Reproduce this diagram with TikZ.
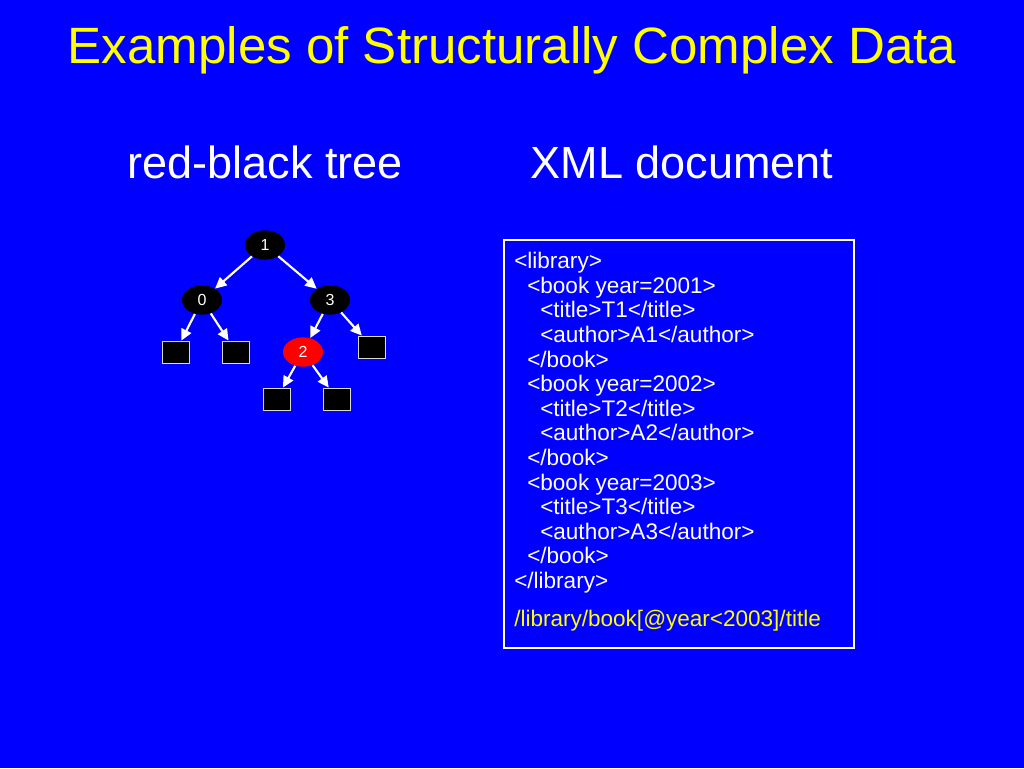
\documentclass[tikz,border=0pt]{standalone}
\usepackage{fontspec}
\setmainfont{Liberation Sans}
\usetikzlibrary{arrows.meta,shapes.geometric}
\definecolor{bgblue}{RGB}{0,0,255}
\definecolor{ttlyellow}{RGB}{255,255,0}
\definecolor{rbred}{RGB}{255,0,0}
\begin{document}
\begin{tikzpicture}[x=0.75pt,y=-0.75pt,
  title/.style={anchor=base,inner sep=0,text=ttlyellow,font=\fontsize{38.3}{44}\selectfont},
  heading/.style={anchor=base,inner sep=0,text=white,font=\fontsize{33.8}{40}\selectfont},
  rbnode/.style={ellipse,inner sep=0,minimum width=30pt,minimum height=22pt,fill=black,text=white,font=\fontsize{12}{14}\selectfont},
  rednode/.style={rbnode,fill=rbred},
  leaf/.style={rectangle,inner sep=0,minimum width=20.25pt,minimum height=16.5pt,fill=black,draw=black!15,line width=0.6pt},
  edge/.style={draw=white,line width=1.6pt,-{Triangle[length=8.5pt,width=8pt]}},
  xmltext/.style={anchor=north west,inner sep=0,text=white,align=left,font=\fontsize{16.9}{18.45}\selectfont},
  xpath/.style={anchor=base west,inner sep=0,text=ttlyellow,font=\fontsize{16.9}{18.45}\selectfont}
]
\fill[bgblue] (0,0) rectangle (1024,768);
\useasboundingbox (0,0) rectangle (1024,768);

\node[title] (title) at (512,63) {Examples of Structurally Complex Data};
\node[heading] (rbt) at (265,178) {red-black tree};
\node[heading] (xmlh) at (682,178) {XML document};

% tree
\node[rbnode] (n1) at (265,245) {1};
\node[rbnode] (n0) at (202,300) {0};
\node[rbnode] (n3) at (330,300) {3};
\node[rednode] (n2) at (303,352) {2};
\node[leaf] (l1) at (175.5,352) {};
\node[leaf] (l2) at (236,352) {};
\node[leaf] (l3) at (372,347) {};
\node[leaf] (l4) at (276.5,399) {};
\node[leaf] (l5) at (337,399) {};
\draw[edge] (n1) -- (n0);
\draw[edge] (n1) -- (n3);
\draw[edge] (n0) -- (l1);
\draw[edge] (n0) -- (l2);
\draw[edge] (n3) -- (n2);
\draw[edge] (n3) -- (l3);
\draw[edge] (n2) -- (l4);
\draw[edge] (n2) -- (l5);

% XML box
\node[draw=white,line width=1.6pt,minimum width=262.5pt,minimum height=306pt,anchor=north west,inner sep=0] (box) at (503,239) {};
\node[xmltext] (xml) at (514,252) {%
<library>\\
\hspace*{9.75pt}<book year=2001>\\
\hspace*{19.5pt}<title>T1</title>\\
\hspace*{19.5pt}<author>A1</author>\\
\hspace*{9.75pt}</book>\\
\hspace*{9.75pt}<book year=2002>\\
\hspace*{19.5pt}<title>T2</title>\\
\hspace*{19.5pt}<author>A2</author>\\
\hspace*{9.75pt}</book>\\
\hspace*{9.75pt}<book year=2003>\\
\hspace*{19.5pt}<title>T3</title>\\
\hspace*{19.5pt}<author>A3</author>\\
\hspace*{9.75pt}</book>\\
</library>};
\node[xpath] (xp) at (514,626) {/library/book[@year<2003]/title};
\end{tikzpicture}
\end{document}
